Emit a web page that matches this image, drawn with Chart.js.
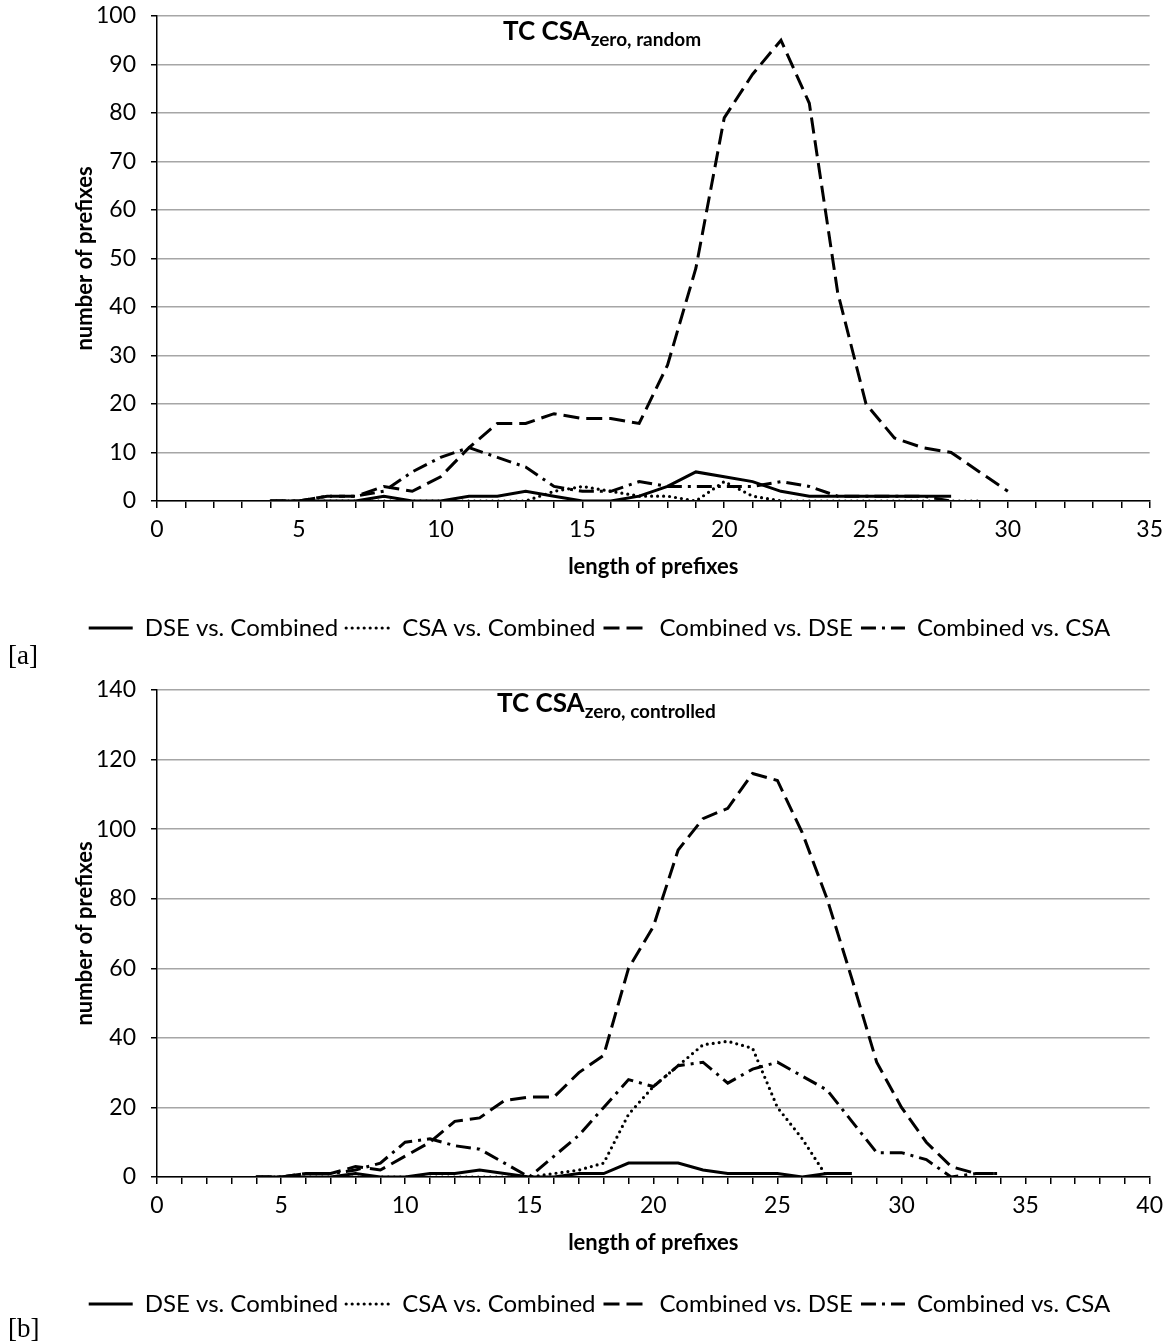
<!DOCTYPE html>
<html>
<head>
  <meta charset="UTF-8">
  <title>TC CSA zero - prefix lengths</title>
  <script src="https://cdn.jsdelivr.net/npm/chart.js"></script>
  <style>
    body, html {
      margin: 0;
      padding: 0;
      background: #fff;
      font-family: Lato, sans-serif;
    }
    .page { position: relative; width: 1171px; height: 1342px; }
    .box { position: absolute; left: 0; width: 1171px; }
    #boxA { top: 0; height: 650px; }
    #boxB { top: 674px; height: 652px; }
    .ttl {
      position: absolute;
      font-weight: bold;
      font-size: 26px;
      line-height: 1;
      white-space: nowrap;
    }
    .ttl sub { font-size: 19px; vertical-align: -6px; }
    .tag {
      position: absolute;
      left: 8px;
      font-family: "Liberation Serif", serif;
      font-size: 27px;
      line-height: 1;
    }
  </style>
</head>
<body>
  <div class="page">
    <div class="box" id="boxA"><canvas id="chartA"></canvas></div>
    <div class="box" id="boxB"><canvas id="chartB"></canvas></div>
    <div class="ttl" style="left:503px; top:17px;">TC CSA<sub>zero, random</sub></div>
    <div class="ttl" style="left:497px; top:689px;">TC CSA<sub>zero, controlled</sub></div>
    <div class="tag" style="top:642px;">[a]</div>
    <div class="tag" style="top:1315px;">[b]</div>
  </div>

  <script>
    // series names (same for both charts)
    const seriesNames = ["DSE vs. Combined", "CSA vs. Combined", "Combined vs. DSE", "Combined vs. CSA"];

    // [a] random
    const lengthsA = [4,5,6,7,8,9,10,11,12,13,14,15,16,17,18,19,20,21,22,23,24,25,26,27,28,29,30];
    const dseVsCombA = [0,0,0,0,1,0,0,1,1,2,1,0,0,1,3,6,5,4,2,1,1,1,1,1,1,null,null];
    const csaVsCombA = [0,0,0,0,0,0,0,0,0,0,2,3,2,1,1,0,4,1,0,0,0,0,0,0,0,0,null];
    const combVsDseA = [0,0,1,1,3,2,5,11,16,16,18,17,17,16,28,48,79,88,95,82,43,20,13,11,10,6,2];
    const combVsCsaA = [0,0,1,1,2,6,9,11,9,7,3,2,2,4,3,3,3,3,4,3,1,1,1,1,0,null,null];

    // [b] controlled
    const lengthsB = [4,5,6,7,8,9,10,11,12,13,14,15,16,17,18,19,20,21,22,23,24,25,26,27,28,29,30,31,32,33,34];
    const dseVsCombB = [0,0,0,0,1,0,0,1,1,2,1,0,0,1,1,4,4,4,2,1,1,1,0,1,1,null,null,null,null,null,null];
    const csaVsCombB = [0,0,0,0,0,0,0,0,0,0,0,0,1,2,4,18,26,32,38,39,37,20,11,0,null,null,null,null,null,null,null];
    const combVsDseB = [0,0,1,1,3,2,6,10,16,17,22,23,23,30,35,60,72,94,103,106,116,114,99,80,57,33,20,10,3,1,1];
    const combVsCsaB = [0,0,1,1,2,4,10,11,9,8,4,0,6,12,20,28,26,32,33,27,31,33,29,25,16,7,7,5,0,1,1];

    Chart.defaults.font.family = 'Lato';
    Chart.defaults.color = '#000';

    const lineStyles = [
      { borderDash: [], borderWidth: 3, borderCapStyle: 'butt' },
      { borderDash: [0, 6], borderWidth: 3.2, borderCapStyle: 'round' },
      { borderDash: [16, 7], borderWidth: 3, borderCapStyle: 'butt' },
      { borderDash: [15, 6, 3, 6], borderWidth: 3, borderCapStyle: 'butt' }
    ];

    // legend in the original sits a bit right of the canvas centre
    const legendShift = {
      id: 'legendShift',
      afterLayout(chart) {
        chart.legend.left += 22;
        chart.legend.right += 22;
      }
    };

    function pts(xs, ys) {
      const out = [];
      xs.forEach((x, i) => { if (ys[i] !== null) out.push({ x: x, y: ys[i] }); });
      return out;
    }

    function makeChart(id, xs, all, xMax, yMax, yStep) {
      const ctx = document.getElementById(id).getContext('2d');
      return new Chart(ctx, {
        type: 'line',
        data: {
          datasets: all.map((ys, i) => Object.assign({
            label: seriesNames[i],
            data: pts(xs, ys),
            borderColor: '#000',
            pointRadius: 0,
            tension: 0,
            fill: false
          }, lineStyles[i]))
        },
        plugins: [legendShift],
        options: {
          responsive: true,
          maintainAspectRatio: false,
          animation: false,
          layout: { padding: { top: 16, right: 16, left: 0, bottom: 0 } },
          plugins: {
            tooltip: { enabled: false },
            legend: {
              display: true,
              position: 'bottom',
              labels: {
                usePointStyle: true,
                pointStyle: 'line',
                pointStyleWidth: 44,
                padding: 8,
                font: { size: 24 },
                color: '#000',
                generateLabels: chart => chart.data.datasets.map((ds, i) => ({
                  text: ds.label,
                  fillStyle: 'rgba(0,0,0,0)',
                  strokeStyle: '#000',
                  lineWidth: ds.borderWidth,
                  lineDash: ds.borderDash,
                  lineCap: ds.borderCapStyle,
                  pointStyle: 'line',
                  fontColor: '#000',
                  hidden: false,
                  datasetIndex: i
                }))
              }
            }
          },
          scales: {
            x: {
              type: 'linear',
              min: 0,
              max: xMax,
              afterFit: s => { s.height = 107; },
              ticks: {
                stepSize: 1,
                autoSkip: false,
                maxRotation: 0,
                padding: 8,
                font: { size: 23 },
                callback: v => (v % 5 === 0 ? v : '')
              },
              grid: { drawOnChartArea: false, color: '#000', lineWidth: 1.5, tickLength: 7 },
              border: { color: '#000', width: 1.5 },
              title: {
                display: true,
                text: 'length of prefixes',
                font: { size: 22, weight: 'bold' },
                padding: { top: 0, bottom: 28 }
              }
            },
            y: {
              min: 0,
              max: yMax,
              afterFit: s => {
                s.width = 157;
                s.paddingTop = 0;
                s.paddingBottom = 0;
              },
              ticks: { stepSize: yStep, padding: 15, font: { size: 23 } },
              grid: { color: '#a6a6a6', lineWidth: 1.5, tickColor: '#000', tickLength: 6 },
              border: { color: '#000', width: 1.5 },
              title: {
                display: true,
                text: 'number of prefixes',
                font: { size: 22, weight: 'bold' },
                padding: { top: 72, bottom: 0 }
              }
            }
          }
        }
      });
    }

    makeChart('chartA', lengthsA, [dseVsCombA, csaVsCombA, combVsDseA, combVsCsaA], 35, 100, 10);
    makeChart('chartB', lengthsB, [dseVsCombB, csaVsCombB, combVsDseB, combVsCsaB], 40, 140, 20);
  </script>
</body>
</html>
